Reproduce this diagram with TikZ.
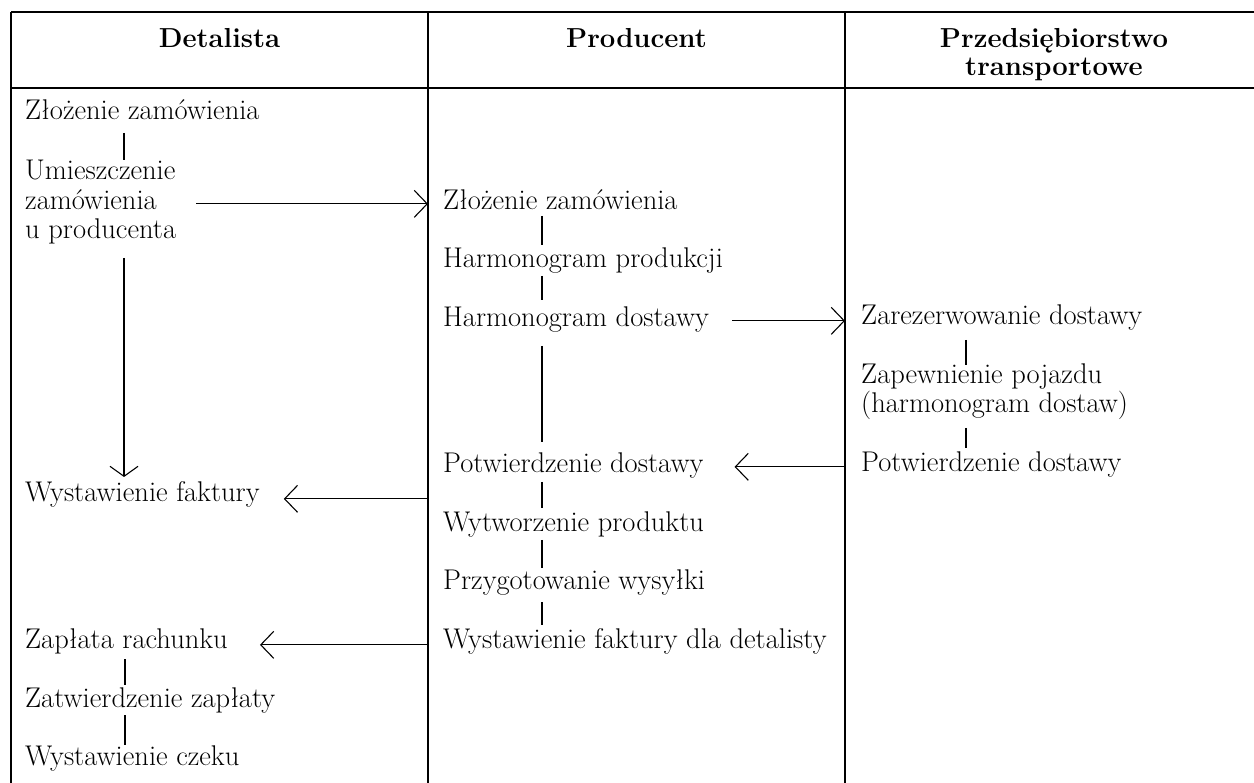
\documentclass[tikz,border=0pt]{standalone}
\usepackage{fontspec}
\usetikzlibrary{arrows.meta,calc}
\begin{document}
\begin{tikzpicture}[x=1pt,y=-1pt,
  txt/.style={inner sep=0pt,anchor=base west,align=left,font=\fontsize{28.5}{29.5}\selectfont},
  hdr/.style={inner sep=0pt,anchor=base,align=center,font=\fontsize{27.5}{28}\selectfont\bfseries},
  grid/.style={line width=1.5pt},
  link/.style={line width=1.1pt},
  arr/.style={line width=1.1pt,-{Straight Barb[length=13pt,width=27pt]}},
  varr/.style={line width=1.1pt,-{Straight Barb[length=10pt,width=28pt]}}]
\useasboundingbox (0,0) rectangle (1254,783);
% table
\coordinate (divA) at (428,0);
\coordinate (divB) at (845,0);
\draw[grid] (11,12) -- (1254,12);
\draw[grid] (11,88) -- (1254,88);
\draw[grid] (11,12) -- (11,783);
\draw[grid] (divA |- 0,12) -- (428,783);
\draw[grid] (divB |- 0,12) -- (845,783);
% headers
\node[hdr] (hD) at (219.5,48) {Detalista};
\node[hdr] (hP) at (636.5,48) {Producent};
\node[hdr] (hT) at (1054,76) {Przedsiębiorstwo\\transportowe};
% Detalista
\node[txt] (D1) at (25,120) {Złożenie zamówienia};
\node[txt] (D2) at (25,239) {Umieszczenie\\zamówienia\\u producenta};
\node[txt] (D3) at (25,502) {Wystawienie faktury};
\node[txt] (D4) at (25,648) {Zapłata rachunku};
\node[txt] (D5) at (25,707) {Zatwierdzenie zapłaty};
\node[txt] (D6) at (25,765) {Wystawienie czeku};
% Producent
\node[txt] (P1) at (443,210) {Złożenie zamówienia};
\node[txt] (P2) at (443,268) {Harmonogram produkcji};
\node[txt] (P3) at (443,327) {Harmonogram dostawy};
\node[txt] (P4) at (443,473) {Potwierdzenie dostawy};
\node[txt] (P5) at (443,532) {Wytworzenie produktu};
\node[txt] (P6) at (443,590) {Przygotowanie wysyłki};
\node[txt] (P7) at (443,648) {Wystawienie faktury dla detalisty};
% Transport
\node[txt] (T1) at (861,325) {Zarezerwowanie dostawy};
\node[txt] (T2) at (861,413) {Zapewnienie pojazdu\\(harmonogram dostaw)};
\node[txt] (T3) at (861,472) {Potwierdzenie dostawy};
% vertical links
\draw[link] ($(D1.base west)+(99,13)$) -- ($(D2.base west)+(99,-79)$);
\draw[varr] ($(D2.base west)+(99,19)$) -- ($(D3.base west)+(99,-25)$);
\draw[link] ($(D4.base west)+(100,11)$) -- ($(D5.base west)+(100,-22)$);
\draw[link] ($(D5.base west)+(100,8)$) -- ($(D6.base west)+(100,-20)$);
\draw[link] ($(P1.base west)+(99,6)$) -- ($(P2.base west)+(99,-23)$);
\draw[link] ($(P2.base west)+(99,8)$) -- ($(P3.base west)+(99,-27)$);
\draw[link] ($(P3.base west)+(99,19)$) -- ($(P4.base west)+(99,-31)$);
\draw[link] ($(P4.base west)+(99,9)$) -- ($(P5.base west)+(99,-24)$);
\draw[link] ($(P5.base west)+(99,8)$) -- ($(P6.base west)+(99,-22)$);
\draw[link] ($(P6.base west)+(99,12)$) -- ($(P7.base west)+(99,-23)$);
\draw[link] ($(T1.base west)+(105,15)$) -- ($(T2.base west)+(105,-48)$);
\draw[link] ($(T2.base west)+(105,15)$) -- ($(T3.base west)+(105,-24)$);
% horizontal arrows
\draw[arr] ($(D2.east |- P1.mid west)+(20,-4)$) -- ($(divA |- P1.mid west)+(0,-4)$);
\draw[arr] ($(P3.mid east)+(23,-4)$) -- ($(divB |- P3.mid east)+(0,-4)$);
\draw[arr] ($(divB |- T3.mid west)+(0,-3)$) -- ($(P4.mid east |- T3.mid west)+(31,-3)$);
\draw[arr] ($(divA |- D3.mid)+(0,-1)$) -- ($(D3.mid east)+(24,-1)$);
\draw[arr] ($(divA |- D4.mid)+(0,-1)$) -- ($(D4.mid east)+(32,-1)$);
\end{tikzpicture}
\end{document}
